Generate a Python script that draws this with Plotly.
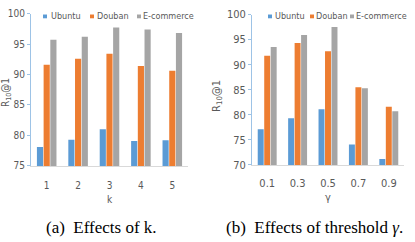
import plotly.graph_objects as go

series_names = ["Ubuntu", "Douban", "E-commerce"]
colors = ["#5B9BD5", "#ED7D31", "#A5A5A5"]

k_labels = ["1", "2", "3", "4", "5"]
k_ubuntu = [78.1, 79.3, 81.0, 79.1, 79.2]
k_douban = [91.6, 92.6, 93.4, 91.4, 90.6]
k_ecom = [95.7, 96.2, 97.7, 97.4, 96.8]

g_labels = ["0.1", "0.3", "0.5", "0.7", "0.9"]
g_ubuntu = [77.1, 79.3, 81.1, 74.1, 71.2]
g_douban = [91.8, 94.3, 92.7, 85.5, 81.6]
g_ecom = [93.5, 95.9, 97.5, 85.3, 80.7]

k_ticks = [75, 80, 85, 90, 95, 100]
g_ticks = [70, 75, 80, 85, 90, 95, 100]

FONT = "Liberation Sans Narrow, DejaVu Sans Condensed, Roboto Condensed, Liberation Sans, sans-serif"
TICK_COLOR = "#595959"
SERIF = "Liberation Serif, Times New Roman, serif"

fig = go.Figure()
for name, col, vals in zip(series_names, colors, [k_ubuntu, k_douban, k_ecom]):
    fig.add_trace(go.Bar(x=k_labels, y=vals, name=name, marker_color=col,
                         marker_line_width=0, xaxis="x", yaxis="y", showlegend=False))
for name, col, vals in zip(series_names, colors, [g_ubuntu, g_douban, g_ecom]):
    fig.add_trace(go.Bar(x=g_labels, y=vals, name=name, marker_color=col,
                         marker_line_width=0, xaxis="x2", yaxis="y2", showlegend=False))

W, H = 415, 242
def px(x):
    return x / W
def py(y):
    return 1 - y / H

def tf(size):
    return dict(family=FONT, size=size, color=TICK_COLOR)

fig.update_layout(
    width=W, height=H, margin=dict(l=0, r=0, t=0, b=0),
    paper_bgcolor="white", plot_bgcolor="white",
    barmode="group", bargap=0.36, bargroupgap=0.08,
    showlegend=False,
    xaxis=dict(domain=[px(31), px(188)], anchor="y", type="category",
               showline=True, linecolor="#D9D9D9", linewidth=1, ticks="",
               showgrid=False, zeroline=False, tickfont=tf(10),
               ticklabelstandoff=10),
    yaxis=dict(domain=[py(169), py(8)], anchor="x", range=[75, 100],
               tickvals=k_ticks, showline=True, linecolor="#9DC3E6", linewidth=1,
               showgrid=False, zeroline=False, tickfont=tf(10),
               ticks="outside", ticklen=3, tickcolor="#9DC3E6"),
    xaxis2=dict(domain=[px(252), px(404)], anchor="y2", type="category",
                showline=True, linecolor="#D9D9D9", linewidth=1, ticks="",
                showgrid=False, zeroline=False, tickfont=tf(11),
                ticklabelstandoff=8),
    yaxis2=dict(domain=[py(168), py(9)], anchor="x2", range=[70, 100],
                tickvals=g_ticks, showline=True, linecolor="#9DC3E6", linewidth=1,
                showgrid=False, zeroline=False, tickfont=tf(11),
                ticks="outside", ticklen=3, tickcolor="#9DC3E6"),
)

def A(text, x, y, size, family=FONT, color=TICK_COLOR, xanchor="center", angle=0):
    return dict(text=text, x=px(x), y=py(y), xref="paper", yref="paper",
                xanchor=xanchor, yanchor="middle", textangle=angle, showarrow=False,
                borderpad=0, font=dict(family=family, size=size, color=color))

ann = []
ann.append(A("R<sub>10</sub>@1", 6, 92, 10, angle=-90))
ann.append(A("R<sub>10</sub>@1", 217, 95, 11, angle=-90))
ann.append(A("k", 110, 204, 10))
ann.append(A("γ", 328, 202, 11))
ann.append(A("(a)  Effects of k.", 101, 234, 17, family=SERIF, color="black"))
ann.append(A("(b)  Effects of threshold <i>γ</i>.", 314, 234, 17, family=SERIF, color="black"))

shapes = []
legends = [
    ([(43, 50), (90, 96), (137, 142)], 11, 9, 4),
    ([(268, 274), (310, 315), (350, 355)], 11, 9, 4),
]
for legpos, ly, fs, ms in legends:
    for (mx, tx), name, col in zip(legpos, series_names, colors):
        shapes.append(dict(type="rect", xref="paper", yref="paper",
                           x0=px(mx), x1=px(mx + ms), y0=py(ly + ms / 2), y1=py(ly - ms / 2),
                           fillcolor=col, line_width=0))
        ann.append(A(name, tx, ly, fs, xanchor="left"))

fig.update_layout(annotations=ann, shapes=shapes)
fig.write_html("out.html")
